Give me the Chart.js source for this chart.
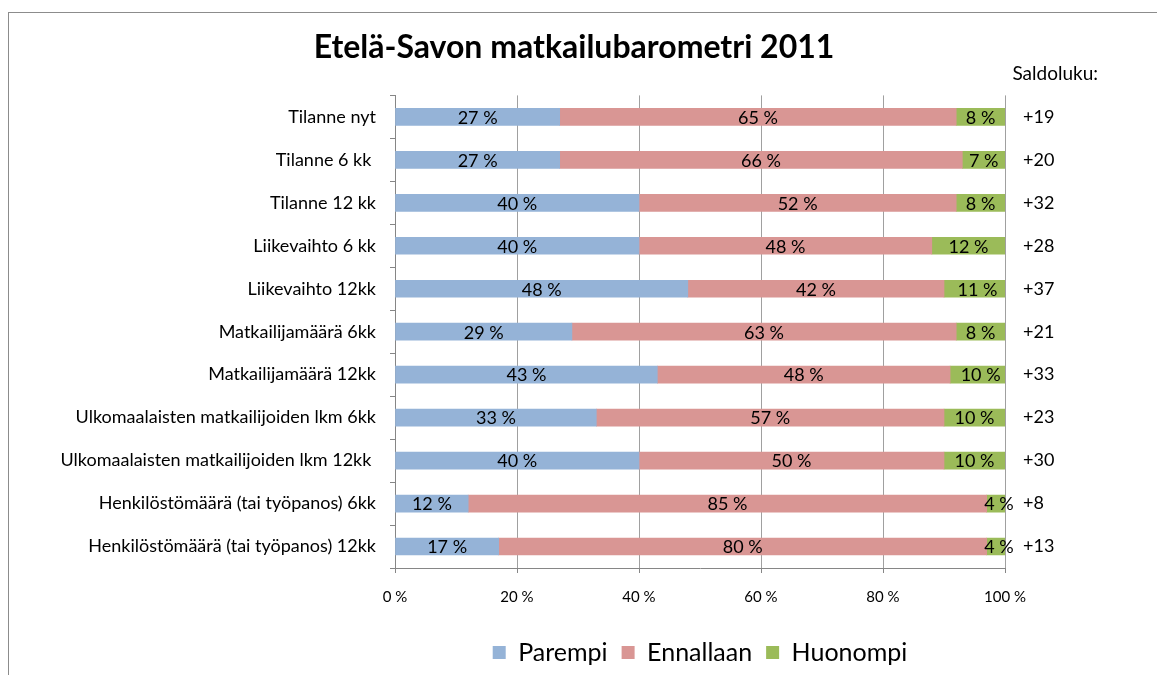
<!DOCTYPE html>
<html lang="fi">
<head>
<meta charset="utf-8">
<title>Etelä-Savon matkailubarometri 2011</title>
<script src="https://cdn.jsdelivr.net/npm/chart.js@4"></script>
<style>
  html, body { margin: 0; padding: 0; background: #fff; overflow: hidden; }
  #frame {
    position: absolute; left: 8px; top: 12px; width: 1300px; height: 800px;
    border: 1px solid #8c8c8c;
  }
  #wrap { position: absolute; left: 0; top: 0; width: 1157px; height: 675px; }
</style>
</head>
<body>
<div id="frame"></div>
<div id="wrap"><canvas id="barChart" width="1157" height="675"></canvas></div>
<script>
const categories = [
  'Tilanne nyt',
  'Tilanne 6 kk ',
  'Tilanne 12 kk',
  'Liikevaihto 6 kk',
  'Liikevaihto 12kk',
  'Matkailijamäärä 6kk',
  'Matkailijamäärä 12kk',
  'Ulkomaalaisten matkailijoiden lkm 6kk',
  'Ulkomaalaisten matkailijoiden lkm 12kk ',
  'Henkilöstömäärä (tai työpanos) 6kk',
  'Henkilöstömäärä (tai työpanos) 12kk',
];
const parempi = [27, 27, 40, 40, 48, 29, 43, 33, 40, 12, 17];
const ennallaan = [65, 66, 52, 48, 42, 63, 48, 57, 50, 85, 80];
const huonompi = [8, 7, 8, 12, 11, 8, 10, 10, 10, 4, 4];
const saldoluku = ['+19', '+20', '+32', '+28', '+37', '+21', '+33', '+23', '+30', '+8', '+13'];
const saldoTitle = 'Saldoluku:';
const xTicks = [0, 20, 40, 60, 80, 100];

const FONT = 'Lato, "Open Sans", sans-serif';
const AXIS_GREY = '#868686';

// value text in the middle of every bar segment
const barLabels = {
  id: 'barLabels',
  afterDatasetsDraw(chart) {
    const { ctx } = chart;
    ctx.save();
    ctx.font = '18px ' + FONT;
    ctx.fillStyle = '#000';
    ctx.textAlign = 'center';
    ctx.textBaseline = 'middle';
    chart.data.datasets.forEach((ds, i) => {
      chart.getDatasetMeta(i).data.forEach((bar, j) => {
        const { x, y } = bar.getCenterPoint();
        ctx.fillText(ds.data[j] + ' %', x, y + 1);
      });
    });
    ctx.restore();
  },
};

// heading above the balance figures on the right
const saldoHeading = {
  id: 'saldoHeading',
  afterDraw(chart) {
    const { ctx } = chart;
    const scale = chart.scales.saldo;
    ctx.save();
    ctx.font = '19px ' + FONT;
    ctx.fillStyle = '#000';
    ctx.textAlign = 'right';
    ctx.textBaseline = 'middle';
    ctx.fillText(saldoTitle, scale.right - 50, chart.chartArea.top - 22);
    ctx.restore();
  },
};

function series(label, data, color) {
  return {
    label,
    data,
    backgroundColor: color,
    borderWidth: 0,
    barThickness: 17,
  };
}

const ctx = document.getElementById('barChart').getContext('2d');
const barChart = new Chart(ctx, {
  type: 'bar',
  data: {
    labels: categories,
    datasets: [
      series('Parempi', parempi, '#95b3d7'),
      series('Ennallaan', ennallaan, '#d99694'),
      series('Huonompi', huonompi, '#9bbb59'),
    ],
  },
  options: {
    indexAxis: 'y',
    responsive: false,
    animation: false,
    layout: { padding: { left: 0, right: 9, top: 0, bottom: 0 } },
    scales: {
      x: {
        stacked: true,
        min: 0,
        max: 100,
        afterBuildTicks: (scale) => {
          scale.ticks = xTicks.map((v) => ({ value: v }));
        },
        afterFit: (scale) => { scale.height = 58; },
        grid: { color: '#a0a0a0', tickColor: AXIS_GREY, tickLength: 5 },
        border: { display: true, color: AXIS_GREY },
        ticks: {
          color: '#000',
          padding: 15,
          font: { family: FONT, size: 15 },
          callback: (v) => v + ' %',
        },
      },
      y: {
        stacked: true,
        afterFit: (scale) => { scale.width = 395; },
        grid: { drawOnChartArea: false, tickColor: AXIS_GREY, tickLength: 5, offset: true },
        border: { display: true, color: AXIS_GREY },
        ticks: { color: '#000', padding: 14, font: { family: FONT, size: 18 } },
      },
      saldo: {
        type: 'category',
        labels: saldoluku,
        position: 'right',
        offset: true,
        afterFit: (scale) => { scale.width = 143; },
        grid: { display: false },
        border: { display: false },
        ticks: { color: '#000', padding: 10, font: { family: FONT, size: 18 } },
      },
    },
    plugins: {
      title: {
        display: true,
        text: 'Etelä-Savon matkailubarometri 2011',
        color: '#000',
        font: { family: FONT, size: 32, weight: 'bold' },
        padding: { top: 28, bottom: 29 },
      },
      legend: {
        position: 'bottom',
        fullSize: false,
        labels: {
          color: '#000',
          boxWidth: 13,
          boxHeight: 13,
          padding: 14,
          font: { family: FONT, size: 25 },
        },
      },
      tooltip: { enabled: false },
    },
  },
  plugins: [barLabels, saldoHeading],
});
</script>
</body>
</html>
